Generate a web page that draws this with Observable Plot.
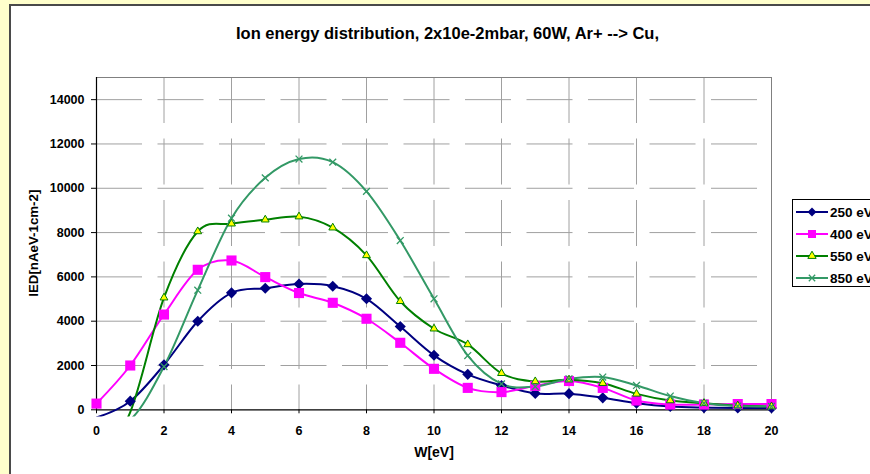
<!DOCTYPE html>
<html><head><meta charset="utf-8">
<script src="https://cdn.jsdelivr.net/npm/d3@7"></script>
<script src="https://cdn.jsdelivr.net/npm/@observablehq/plot@0.6"></script>
<style>
html,body{margin:0;padding:0;}
body{width:870px;height:474px;overflow:hidden;background:#ffffcc;position:relative;font-family:"Liberation Sans",Arial,sans-serif;}
#panel{position:absolute;left:9px;top:4px;width:900px;height:500px;background:#fff;border-left:2px solid #4a4a4a;border-top:2px solid #4a4a4a;}
#chart{position:absolute;left:0;top:0;}
#legend{position:absolute;left:792px;top:199px;width:110px;height:88px;border:1px solid #000;background:#fff;box-sizing:border-box;}
.lrow{position:absolute;left:0;height:18px;display:flex;align-items:center;font-weight:bold;font-size:13.5px;color:#000;white-space:nowrap;}
.lrow svg{display:block;margin-left:3px;margin-right:2px;}
</style></head><body>
<div id="panel"></div><div id="chart"></div><div id="legend"></div>
<script>
// ---- data ----
const energies = d3.range(0, 21); // W[eV]
const ied250 = [-350, 390, 2030, 4000, 5280, 5490, 5680, 5580, 5010, 3760, 2460, 1600, 1100, 740, 730, 540, 300, 150, 100, 80, 80];
const ied400 = [280, 2000, 4300, 6320, 6740, 5990, 5270, 4830, 4110, 3025, 1850, 990, 800, 1080, 1300, 990, 420, 240, 240, 260, 260];
const ied550 = [-2500, -100, 5060, 8050, 8400, 8580, 8720, 8220, 6970, 4900, 3660, 2950, 1650, 1280, 1360, 1200, 720, 420, 300, 190, 150];
const ied850 = [-700, -450, 1950, 5400, 8650, 10470, 11320, 11180, 9860, 7640, 5010, 2450, 1170, 1050, 1400, 1480, 1100, 620, 300, 170, 150];
const seriesNames = ["250 eV", "400 eV", "550 eV", "850 eV"];
const xTicks = [0, 2, 4, 6, 8, 10, 12, 14, 16, 18, 20];
const yTicks = [0, 2000, 4000, 6000, 8000, 10000, 12000, 14000];
const titleText = "Ion energy distribution, 2x10e-2mbar, 60W, Ar+ --> Cu,";
const xTitle = "W[eV]";
const yTitle = "IED[nAeV-1cm-2]";

// ---- styles ----
const seriesStyle = [
  {stroke: "#000080", symbol: "diamond2", fill: "#000080", r: 5, mstroke: "#000080", sw: 0},
  {stroke: "#ff00ff", symbol: "square", fill: "#ff00ff", r: 5.7, mstroke: "#ff00ff", sw: 0},
  {stroke: "#008000", symbol: "triangle", fill: "#ffff00", r: 2.9, mstroke: "#008000", sw: 1},
  {stroke: "#339966", symbol: "times", fill: "none", r: 3.2, mstroke: "#339966", sw: 1.3}
];
const allValues = [ied250, ied400, ied550, ied850];
const seriesData = allValues.map((vals, si) => vals.map((v, i) => ({series: seriesNames[si], w: energies[i], ied: v})));

const yMin = -320, yMax = 15000, xMax = 20;
const font = "Liberation Sans, Arial, sans-serif";

const marks = [
  Plot.ruleY(yTicks.filter(d => d > 0), {y: d => d, x1: 0, x2: xMax, stroke: "#a0a0a0", strokeDasharray: "46,15.5"}),
  Plot.ruleX(xTicks.filter(d => d > 0 && d < xMax), {x: d => d, y1: yMax, y2: 0, stroke: "#a0a0a0", strokeDasharray: "46,15.5"}),
  Plot.ruleY([yMax], {x1: 0, x2: xMax, stroke: "#808080"}),
  Plot.ruleX([xMax], {y1: yMax, y2: 0, stroke: "#808080"}),
  // tick marks
  Plot.ruleX(xTicks, {x: d => d, y1: 0, y2: 0, insetBottom: -4, stroke: "#000"}),
  Plot.ruleY(yTicks, {y: d => d, x1: 0, x2: 0, insetLeft: -5, stroke: "#000"}),
  // axis lines
  Plot.ruleX([0], {y1: 0, y2: yMax, stroke: "#000", strokeWidth: 1.2}),
  Plot.ruleY([0], {x1: 0, x2: xMax, stroke: "#000", strokeWidth: 1.2}),
  // tick labels
  Plot.text(xTicks, {x: d => d, y: 0, dy: 21, text: d => String(d), fontWeight: "bold", fontSize: 12.5, fill: "#000"}),
  Plot.text(yTicks, {x: 0, y: d => d, dx: -12, text: d => String(d), textAnchor: "end", fontWeight: "bold", fontSize: 12.5, fill: "#000"}),
  // titles
  Plot.text([titleText], {frameAnchor: "top", text: d => d, dx: 13.5, dy: -44, lineAnchor: "middle", textAnchor: "middle", fontWeight: "bold", fontSize: 16.5, fill: "#000"}),
  Plot.text([xTitle], {frameAnchor: "bottom", text: d => d, dy: 36, lineAnchor: "middle", textAnchor: "middle", fontWeight: "bold", fontSize: 14, fill: "#000"}),
  Plot.text([yTitle], {frameAnchor: "left", text: d => d, dx: -63, dy: -4, rotate: -90, lineAnchor: "middle", textAnchor: "middle", fontWeight: "bold", fontSize: 13.3, fill: "#000"})
];

seriesData.forEach((rows, si) => {
  const s = seriesStyle[si];
  marks.push(Plot.line(rows, {x: "w", y: "ied", stroke: s.stroke, strokeWidth: 2, curve: "cardinal", clip: true}));
});
seriesData.forEach((rows, si) => {
  const s = seriesStyle[si];
  // like the spreadsheet, markers of out-of-range (negative) points are not drawn
  marks.push(Plot.dot(rows.filter(d => d.ied >= 0), {x: "w", y: "ied", symbol: () => s.symbol, r: s.r, fill: s.fill, stroke: s.mstroke, strokeWidth: s.sw}));
});

const chart = Plot.plot({
  width: 870,
  height: 474,
  marginLeft: 96,
  marginRight: 99,
  marginTop: 77,
  marginBottom: 57.6,
  style: {background: "transparent", fontFamily: font, overflow: "visible"},
  x: {domain: [0, xMax], axis: null},
  y: {domain: [yMin, yMax], axis: null},
  symbol: {type: "identity"},
  marks
});
document.getElementById("chart").appendChild(chart);

// ---- legend ----
const legend = d3.select("#legend");
const symMap = {diamond2: d3.symbolDiamond2, square: d3.symbolSquare, triangle: d3.symbolTriangle, times: d3.symbolTimes};
const legendSize = {diamond2: 50, square: 64, triangle: 30, times: 28};
seriesNames.forEach((name, i) => {
  const s = seriesStyle[i];
  const row = legend.append("div").attr("class", "lrow").style("top", (3 + i * 22) + "px");
  const svg = row.append("svg").attr("width", 32).attr("height", 18);
  svg.append("line").attr("x1", 0).attr("x2", 32).attr("y1", 9).attr("y2", 9).attr("stroke", s.stroke).attr("stroke-width", 2);
  svg.append("path").attr("transform", "translate(16,9)")
    .attr("d", d3.symbol(symMap[s.symbol], legendSize[s.symbol])())
    .attr("fill", s.fill).attr("stroke", s.mstroke).attr("stroke-width", s.sw);
  row.append("span").text(name);
});
</script>
</body></html>
